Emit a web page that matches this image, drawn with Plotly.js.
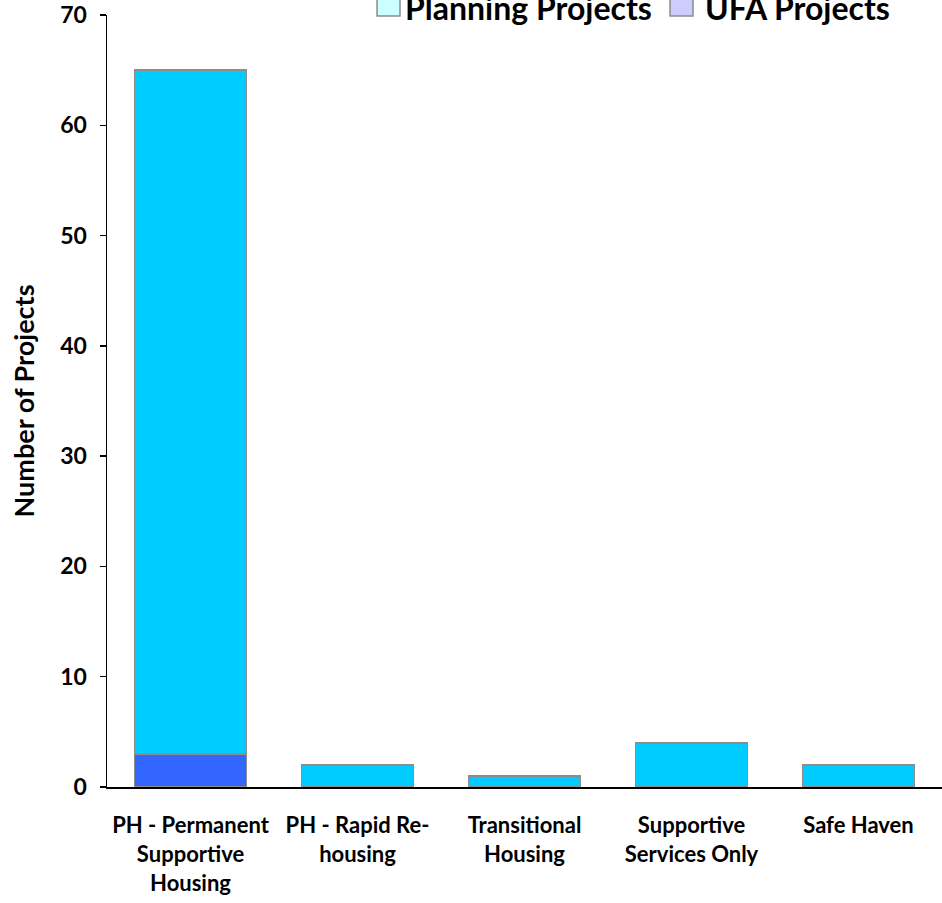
<!DOCTYPE html>
<html>
<head>
<meta charset="utf-8">
<script src="https://cdn.plot.ly/plotly-3.0.1.min.js"></script>
<style>html,body{margin:0;padding:0;background:#fff}#chart{width:942px;height:903px}</style>
</head>
<body>
<div id="chart"></div>
<script>
const categories = [
  "PH - Permanent<br>Supportive<br>Housing",
  "PH - Rapid Re-<br>housing",
  "Transitional<br>Housing",
  "Supportive<br>Services Only",
  "Safe Haven"
];
const ufaProjects = [3, 0, 0, 0, 0];
const planningProjects = [62, 2, 1, 4, 2];
const yTicks = [0, 10, 20, 30, 40, 50, 60, 70];

const FONT = "Lato, 'Open Sans', sans-serif";

const traces = [
  {
    type: "bar", name: "UFA Projects", x: categories, y: ufaProjects,
    marker: {color: "#3366FF", line: {color: "#8c8c8c", width: 1.5}},
    width: 0.67, showlegend: false, hoverinfo: "y"
  },
  {
    type: "bar", name: "Planning Projects", x: categories, y: planningProjects,
    marker: {color: "#00CCFF", line: {color: "#8c8c8c", width: 1.5}},
    width: 0.67, showlegend: false, hoverinfo: "y"
  }
];

const layout = {
  width: 942, height: 903,
  margin: {l: 107, r: 0, t: 15, b: 116},
  paper_bgcolor: "#ffffff", plot_bgcolor: "#ffffff",
  barmode: "stack",
  bargap: 0.33,
  font: {family: FONT, color: "#000", size: 20},
  showlegend: false,
  xaxis: {
    type: "category",
    showline: true, linecolor: "#000", linewidth: 2,
    ticks: "", showgrid: false, zeroline: false,
    tickfont: {family: FONT, size: 22, weight: "bold"},
    ticklabelstandoff: 18,
    range: [-0.5, 4.5]
  },
  yaxis: {
    range: [0, 70], tickvals: yTicks, ticktext: yTicks.map(String),
    showline: true, linecolor: "#000", linewidth: 1.5,
    ticks: "outside", ticklen: 6, tickcolor: "#000", tickwidth: 1.5,
    showgrid: false, zeroline: false,
    tickfont: {family: FONT, size: 23, weight: "bold"},
    ticklabelstandoff: 8,
    title: {text: "Number of Projects", font: {family: FONT, size: 27, weight: "bold"}, standoff: 18}
  },
  shapes: [
    {type: "rect", xref: "paper", yref: "paper", x0: 0.3234, x1: 0.3509, y0: 0.9987, y1: 1.03,
     fillcolor: "#CCFFFF", line: {color: "#8c8c8c", width: 1.5}},
    {type: "rect", xref: "paper", yref: "paper", x0: 0.6743, x1: 0.7018, y0: 0.9987, y1: 1.03,
     fillcolor: "#CCCCFF", line: {color: "#8c8c8c", width: 1.5}}
  ],
  annotations: [
    {xref: "paper", yref: "paper", x: 0.3545, y: 0.9815, xanchor: "left", yanchor: "bottom",
     text: "Planning Projects", showarrow: false, font: {family: FONT, size: 32, weight: "bold"}},
    {xref: "paper", yref: "paper", x: 0.7136, y: 0.9815, xanchor: "left", yanchor: "bottom",
     text: "UFA Projects", showarrow: false, font: {family: FONT, size: 32, weight: "bold"}}
  ]
};

Plotly.newPlot("chart", traces, layout, {displayModeBar: false, staticPlot: true});
</script>
</body>
</html>
